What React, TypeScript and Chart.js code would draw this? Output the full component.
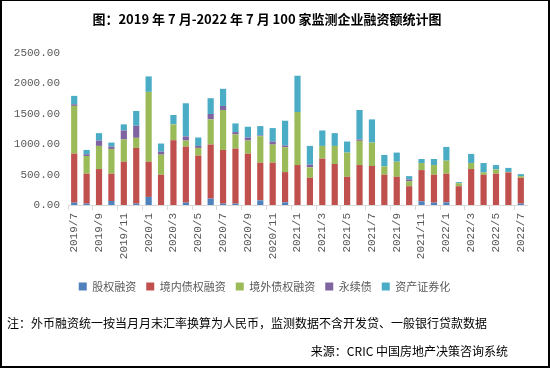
import React, { useEffect, useRef } from "react";
import { Chart, registerables } from "chart.js";

Chart.register(...registerables);

const categories = [
  "2019/7", "2019/8", "2019/9", "2019/10", "2019/11", "2019/12",
  "2020/1", "2020/2", "2020/3", "2020/4", "2020/5", "2020/6",
  "2020/7", "2020/8", "2020/9", "2020/10", "2020/11", "2020/12",
  "2021/1", "2021/2", "2021/3", "2021/4", "2021/5", "2021/6",
  "2021/7", "2021/8", "2021/9", "2021/10", "2021/11", "2021/12",
  "2022/1", "2022/2", "2022/3", "2022/4", "2022/5", "2022/6", "2022/7",
];

const equity = [39, 22, 0, 66, 0, 22, 133, 0, 0, 39, 0, 105, 22, 22, 0, 77, 0, 44, 0, 0, 0, 0, 0, 0, 0, 0, 0, 0, 61, 39, 44, 0, 0, 0, 0, 0, 22];
const domesticDebt = [806, 492, 591, 448, 712, 917, 579, 497, 1066, 922, 812, 889, 884, 906, 845, 619, 696, 497, 657, 447, 762, 674, 464, 657, 641, 497, 464, 309, 513, 458, 470, 309, 591, 497, 514, 536, 425];
const overseasDebt = [785, 292, 381, 408, 365, 166, 1149, 331, 260, 99, 127, 414, 657, 232, 215, 436, 298, 409, 873, 172, 210, 298, 398, 398, 386, 138, 248, 83, 116, 160, 215, 50, 99, 39, 71, 8, 28];
const perpetual = [27, 28, 88, 39, 149, 198, 0, 50, 0, 67, 33, 89, 66, 39, 50, 11, 50, 28, 0, 44, 0, 0, 0, 22, 0, 0, 0, 28, 0, 0, 0, 0, 0, 0, 0, 0, 0];
const abs = [138, 72, 122, 66, 100, 243, 254, 133, 154, 546, 138, 259, 282, 143, 177, 155, 221, 408, 596, 309, 254, 210, 182, 486, 381, 188, 150, 55, 67, 100, 226, 17, 150, 154, 72, 66, 33];

const seriesNames = ["股权融资", "境内债权融资", "境外债权融资", "永续债", "资产证券化"];
const seriesColors = ["#4f81bd", "#c0504d", "#9bbb59", "#8064a2", "#4bacc6"];

const yTicks = [0, 500, 1000, 1500, 2000, 2500];

export default function App() {
  const canvasRef = useRef<HTMLCanvasElement | null>(null);

  useEffect(() => {
    if (!canvasRef.current) return;
    const seriesData = [equity, domesticDebt, overseasDebt, perpetual, abs];
    const chart = new Chart(canvasRef.current, {
      type: "bar",
      data: {
        labels: categories,
        datasets: seriesData.map((d, i) => ({
          label: seriesNames[i],
          data: d,
          backgroundColor: seriesColors[i],
          borderWidth: 0,
          barPercentage: 0.5,
          categoryPercentage: 1,
        })),
      },
      options: {
        responsive: false,
        animation: false,
        layout: { padding: { top: 52, right: 21, left: 0, bottom: 64 } },
        plugins: {
          title: { display: false },
          tooltip: { enabled: false },
          legend: {
            position: "bottom",
            labels: {
              boxWidth: 8,
              boxHeight: 8,
              padding: 10,
              color: "#595959",
              font: { family: "'Noto Sans CJK SC', sans-serif", size: 11 },
            },
          },
        },
        scales: {
          x: {
            stacked: true,
            offset: true,
            border: { display: true, color: "#d9d9d9", width: 1 },
            grid: {
              offset: true,
              drawOnChartArea: false,
              drawTicks: true,
              tickLength: 5,
              color: (ctx: any) => (ctx.index % 2 === 0 ? "#d9d9d9" : "rgba(0,0,0,0)"),
            },
            ticks: {
              autoSkip: false,
              maxRotation: 90,
              minRotation: 90,
              padding: 3,
              color: "#595959",
              font: { family: "'Liberation Mono', monospace", size: 11 },
              callback: (_v: any, i: number) => (i % 2 === 0 ? categories[i] : ""),
            },
            afterFit: (scale: any) => {
              scale.height = 66;
            },
          },
          y: {
            stacked: true,
            min: 0,
            max: 2500,
            border: { display: false },
            grid: { display: false, drawTicks: false },
            afterBuildTicks: (scale: any) => {
              scale.ticks = yTicks.map((v) => ({ value: v }));
            },
            ticks: {
              padding: 8,
              color: "#595959",
              font: { family: "'Liberation Mono', monospace", size: 11 },
              callback: (v: any) => Number(v).toFixed(2),
            },
            afterFit: (scale: any) => {
              scale.width = 66;
            },
          },
        },
      },
    });
    return () => chart.destroy();
  }, []);

  return (
    <div
      style={{
        position: "absolute",
        left: 0,
        top: 0,
        width: 550,
        height: 368,
        boxSizing: "border-box",
        borderTop: "1px solid #000",
        borderLeft: "2px solid #000",
        borderRight: "2px solid #000",
        borderBottom: "2px solid #000",
        background: "#fff",
        overflow: "hidden",
      }}
    >
      <canvas
        ref={canvasRef}
        width={546}
        height={365}
        style={{ position: "absolute", left: 0, top: 0, width: 546, height: 365 }}
      />
      <div
        style={{
          position: "absolute",
          left: 0,
          width: 530,
          top: 10,
          textAlign: "center",
          fontFamily: "'Noto Sans CJK SC', sans-serif",
          fontWeight: 700,
          fontSize: 13,
          lineHeight: "16px",
          color: "#000",
          whiteSpace: "nowrap",
        }}
      >
        图：2019 年 7 月-2022 年 7 月 100 家监测企业融资额统计图
      </div>
      <div
        style={{
          position: "absolute",
          left: 5,
          top: 314,
          fontFamily: "'Noto Sans CJK SC', sans-serif",
          fontSize: 12,
          lineHeight: "16px",
          color: "#000",
          whiteSpace: "nowrap",
        }}
      >
        注：外币融资统一按当月月末汇率换算为人民币，监测数据不含开发贷、一般银行贷款数据
      </div>
      <div
        style={{
          position: "absolute",
          right: 40,
          top: 342,
          fontFamily: "'Noto Sans CJK SC', sans-serif",
          fontSize: 12,
          lineHeight: "16px",
          color: "#000",
          whiteSpace: "nowrap",
        }}
      >
        来源：CRIC 中国房地产决策咨询系统
      </div>
    </div>
  );
}
